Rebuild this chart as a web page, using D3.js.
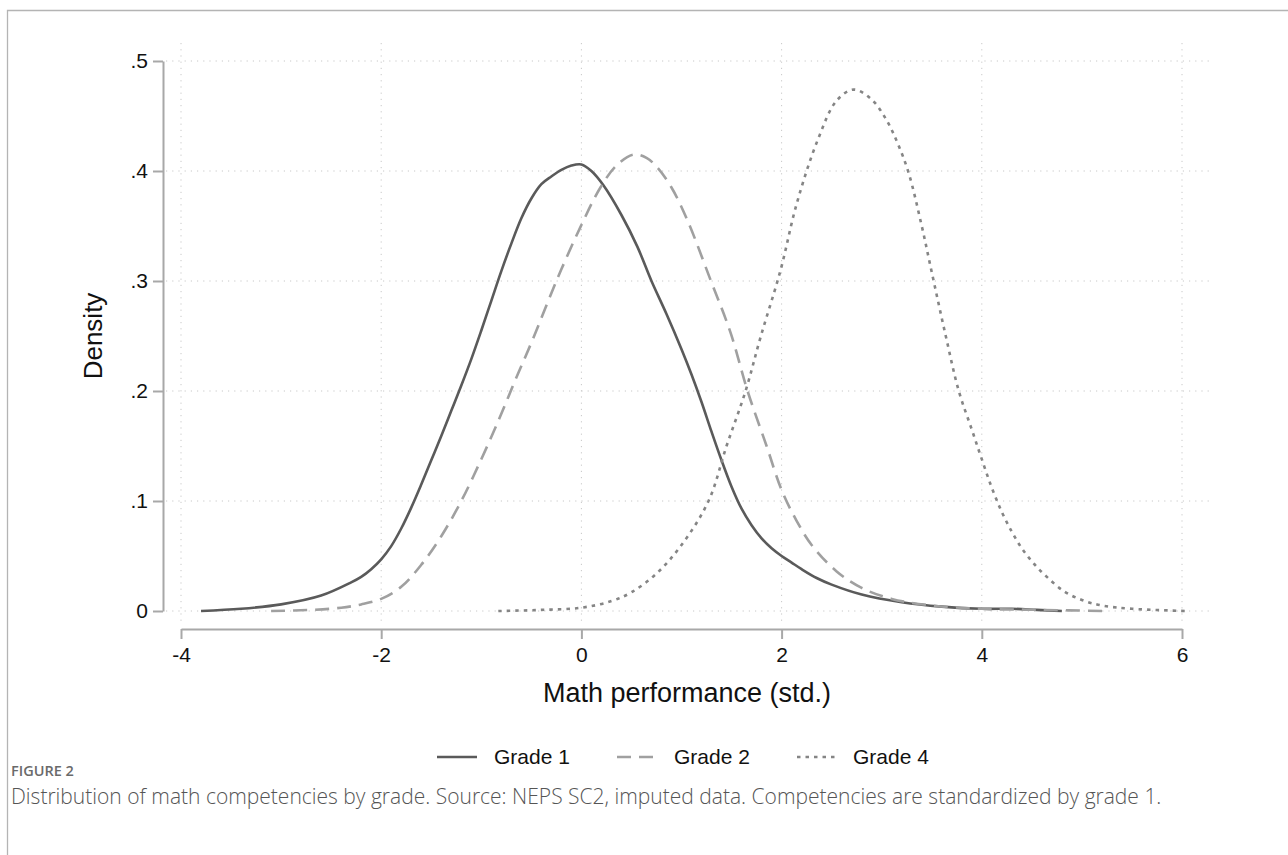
<!DOCTYPE html>
<html>
<head>
<meta charset="utf-8">
<style>
  body { margin: 0; background: #fff; }
  svg { display: block; }
</style>
</head>
<body>
<svg width="1288" height="855"></svg>
<script src="https://cdn.jsdelivr.net/npm/d3@7"></script>
<script>

// density curves, [x, density]
var grade1 = [[-3.8,0],[-3.4,0.002],[-3.0,0.006],[-2.6,0.014],[-2.3,0.026],[-2.2,0.031],[-2.1,0.038],
  [-2.0,0.047],[-1.9,0.059],[-1.8,0.075],[-1.7,0.094],[-1.6,0.115],[-1.5,0.137],[-1.4,0.159],[-1.3,0.182],
  [-1.2,0.205],[-1.1,0.229],[-1.0,0.255],[-0.9,0.282],[-0.8,0.309],[-0.7,0.334],[-0.6,0.357],[-0.5,0.375],
  [-0.4,0.388],[-0.3,0.395],[-0.2,0.401],[-0.1,0.405],[0.0,0.406],[0.1,0.4],[0.22,0.387],[0.4,0.36],
  [0.56,0.331],[0.7,0.3],[0.85,0.27],[1.0,0.238],[1.1,0.215],[1.2,0.19],[1.3,0.163],[1.4,0.137],
  [1.5,0.113],[1.6,0.093],[1.7,0.078],[1.8,0.066],[1.9,0.057],[2.0,0.05],[2.1,0.044],[2.2,0.038],
  [2.35,0.03],[2.5,0.024],[2.8,0.015],[3.2,0.008],[3.6,0.004],[4.0,0.002],[4.3,0.002],[4.55,0.001],[4.8,0]];

var grade2 = [[-3.1,0],[-2.7,0.001],[-2.4,0.003],[-2.2,0.006],[-2.0,0.011],[-1.8,0.022],[-1.6,0.042],
  [-1.4,0.068],[-1.2,0.1],[-1.0,0.138],[-0.82,0.175],[-0.66,0.21],[-0.49,0.246],[-0.25,0.30],[-0.01,0.349],
  [0.19,0.385],[0.35,0.405],[0.52,0.415],[0.65,0.412],[0.76,0.403],[0.9,0.385],[1.06,0.355],[1.29,0.301],
  [1.49,0.253],[1.66,0.2],[1.85,0.15],[2.0,0.11],[2.15,0.082],[2.3,0.06],[2.55,0.036],[2.8,0.021],[3.1,0.011],
  [3.5,0.005],[4.0,0.002],[4.6,0.001],[5.23,0]];

var grade4 = [[-0.83,0],[-0.4,0.001],[0,0.003],[0.3,0.009],[0.5,0.017],[0.75,0.034],[1.0,0.06],
  [1.27,0.1],[1.45,0.15],[1.64,0.2],[1.79,0.249],[1.99,0.31],[2.15,0.37],[2.36,0.428],[2.55,0.464],
  [2.72,0.474],[2.9,0.465],[3.05,0.446],[3.16,0.425],[3.27,0.398],[3.4,0.35],[3.5,0.308],[3.64,0.25],
  [3.77,0.2],[3.9,0.165],[4.0,0.138],[4.1,0.112],[4.2,0.09],[4.3,0.072],[4.4,0.057],[4.52,0.043],
  [4.65,0.031],[4.82,0.018],[5.0,0.01],[5.2,0.005],[5.5,0.002],[6.05,0]];

var xTicks = [-4, -2, 0, 2, 4, 6];
var yTicks = [0, 0.1, 0.2, 0.3, 0.4, 0.5];
var yTickLabels = ["0", ".1", ".2", ".3", ".4", ".5"];
var seriesNames = ["Grade 1", "Grade 2", "Grade 4"];

var svg = d3.select("svg");

var x = d3.scaleLinear().domain([-4, 6]).range([181, 1182]),
    y = d3.scaleLinear().domain([0, 0.5]).range([611, 61]);

var font = "'Liberation Sans', Arial, Helvetica, sans-serif";

// outer frame (left and top only)
svg.append("path")
    .attr("d", "M7.5,855V10.5H1288")
    .attr("fill", "none")
    .attr("stroke", "#b4b4b4")
    .attr("stroke-width", 1.3);

// grid
var grid = svg.append("g")
    .attr("stroke", "#c8c8c8")
    .attr("stroke-width", 1)
    .attr("stroke-dasharray", "1.2,5");

grid.selectAll(".gx").data(xTicks).enter().append("line")
    .attr("x1", d => x(d)).attr("x2", d => x(d))
    .attr("y1", 43).attr("y2", 625);

grid.selectAll(".gy").data(yTicks).enter().append("line")
    .attr("x1", 166).attr("x2", 1210)
    .attr("y1", d => y(d)).attr("y2", d => y(d));

// axes
var yAxis = svg.append("g")
    .attr("transform", "translate(163,0)")
    .call(d3.axisLeft(y).tickValues(yTicks).tickFormat((d, i) => yTickLabels[i]).tickSize(10).tickPadding(5).tickSizeOuter(0));

var xAxis = svg.append("g")
    .attr("transform", "translate(0,629)")
    .call(d3.axisBottom(x).tickValues(xTicks).tickSize(10).tickPadding(8).tickSizeOuter(0));

[yAxis, xAxis].forEach(function(a) {
  a.select(".domain").attr("stroke", "#a8a8a8").attr("stroke-width", 2);
  a.selectAll(".tick line").attr("stroke", "#a8a8a8").attr("stroke-width", 2);
  a.selectAll(".tick text").attr("fill", "#111").attr("font-family", font).attr("font-size", 21);
});
xAxis.selectAll(".tick text").text(d => d < 0 ? "-" + Math.abs(d) : d);

svg.append("text")
    .attr("transform", "translate(102,336) rotate(-90)")
    .attr("text-anchor", "middle")
    .attr("font-family", font)
    .attr("font-size", 26)
    .attr("fill", "#111")
    .text("Density");

svg.append("text")
    .attr("x", 687).attr("y", 702)
    .attr("text-anchor", "middle")
    .attr("font-family", font)
    .attr("font-size", 27)
    .attr("fill", "#111")
    .text("Math performance (std.)");

// curves
var line = d3.line()
    .x(d => x(d[0]))
    .y(d => y(d[1]))
    .curve(d3.curveCatmullRom.alpha(0.5));

var styles = [
  {data: grade1, stroke: "#5a5a5a", dash: null},
  {data: grade2, stroke: "#a0a0a0", dash: "14,8"},
  {data: grade4, stroke: "#858585", dash: "3.5,5"}
];

svg.append("g").selectAll("path")
  .data(styles)
  .enter().append("path")
    .attr("d", d => line(d.data))
    .attr("fill", "none")
    .attr("stroke", d => d.stroke)
    .attr("stroke-width", 2.6)
    .attr("stroke-dasharray", d => d.dash);

// legend
var legendLineX = [437, 617, 797];
var legendTextX = [494, 674, 853];
var legend = svg.append("g").selectAll("g")
  .data(styles)
  .enter().append("g")
    .attr("transform", "translate(0,757)");

legend.append("line")
    .attr("x1", (d, i) => legendLineX[i]).attr("x2", (d, i) => legendLineX[i] + 40)
    .attr("stroke", d => d.stroke)
    .attr("stroke-width", 2.6)
    .attr("stroke-dasharray", d => d.dash);

legend.append("text")
    .attr("x", (d, i) => legendTextX[i]).attr("dy", "0.35em")
    .attr("font-family", font)
    .attr("font-size", 21)
    .attr("fill", "#111")
    .text((d, i) => seriesNames[i]);

// caption
svg.append("text")
    .attr("x", 11).attr("y", 776)
    .attr("font-family", "'Open Sans', sans-serif")
    .attr("font-weight", 600)
    .attr("font-size", 14.5)
    .attr("fill", "#6a6a6a")
    .text("FIGURE 2");

var caption = svg.append("text")
    .attr("x", 11).attr("y", 804)
    .attr("font-family", "'Open Sans', sans-serif")
    .attr("font-weight", 300)
    .attr("font-size", 20)
    .attr("fill", "#555")
    .text("Distribution of math competencies by grade. Source: NEPS SC2, imputed data. Competencies are standardized by grade 1.");

// fit the caption to the width it has in the figure
var w = caption.node().getComputedTextLength();
caption.attr("font-size", 20 * 1151 / w);

</script>
</body>
</html>
